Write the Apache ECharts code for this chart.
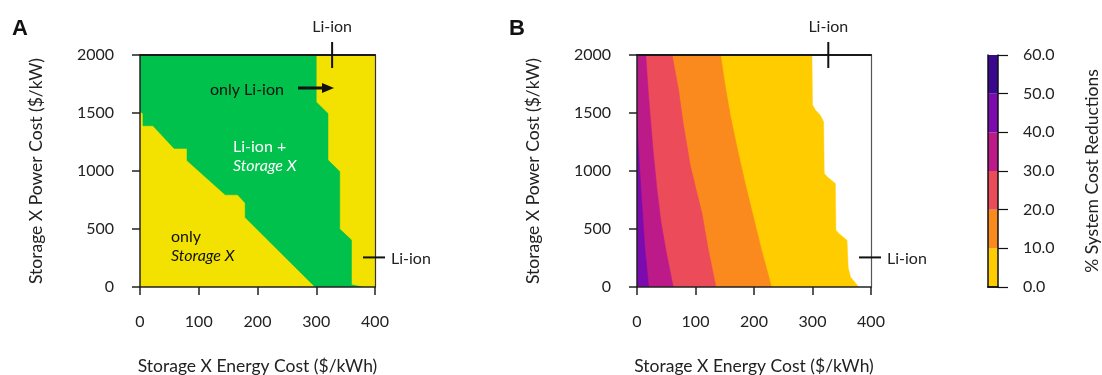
<!DOCTYPE html>
<html><head><meta charset="utf-8">
<script src="https://cdn.jsdelivr.net/npm/echarts@6/dist/echarts.min.js"></script>
<style>html,body{margin:0;padding:0;background:#fff}#c{width:1102px;height:375px}</style>
</head><body><div id="c"></div>
<script>
// ---- data ----
const xTicks = [0, 100, 200, 300, 400];
const yTicks = [0, 500, 1000, 1500, 2000];
const cbLevels = [0, 10, 20, 30, 40, 50, 60];
const xRange = [0, 400];
const yRange = [0, 2000];
const liIonEnergyCost = 327;
const liIonPowerCost = 255;

// Panel A: region boundaries (top -> bottom)
const aLowerBoundary = [[0,1510],[5,1495],[5,1390],[22,1390],[58,1195],[80,1195],[80,1090],[145,795],[166,795],[179,725],[179,600],[298,0]];
const aUpperBoundary = [[300,2000],[300,1595],[320,1495],[320,1095],[340,995],[340,500],[360,405],[360,20],[378,0]];

// Panel B: contour boundaries (top -> bottom)
const bBound0  = [[299,2000],[300,1570],[305,1525],[313,1482],[319,1424],[320,980],[325,950],[339,892],[340,490],[345,461],[359,403],[361,165],[365,86],[379,0]];
const bBound10 = [[143,2000],[150,1756],[160,1467],[172,1180],[185,892],[199,604],[213,317],[230,0]];
const bBound20 = [[60,2000],[71,1700],[79,1412],[91,1050],[101,840],[111,637],[122,320],[135,0]];
const bBound30 = [[15,2000],[19,1700],[23,1450],[28,1150],[34,850],[41,560],[50,300],[62,0]];
const bBound40 = [[0,1400],[3,1150],[6,900],[10,600],[14,300],[20,0]];

const bandColors = ['#FFCC00','#FB8A1E','#EC4B5A','#BD1A89','#7C0BAF','#3A0890'];
const aYellow = '#F3E200', aGreen = '#00C14B';

// ---- build polygons ----
const topLeft = [xRange[0], yRange[1]], botLeft = [xRange[0], yRange[0]];
const polysA = [
  {fill: aYellow, pts: [[xRange[0],yRange[0]],[xRange[1],yRange[0]],[xRange[1],yRange[1]],[xRange[0],yRange[1]]]},
  {fill: aGreen, pts: [topLeft].concat(aLowerBoundary, aUpperBoundary.slice().reverse())}
];
const polysB = [
  {fill: bandColors[0], pts: [topLeft].concat(bBound0, [botLeft])},
  {fill: bandColors[1], pts: [topLeft].concat(bBound10, [botLeft])},
  {fill: bandColors[2], pts: [topLeft].concat(bBound20, [botLeft])},
  {fill: bandColors[3], pts: [topLeft].concat(bBound30, [botLeft])},
  {fill: bandColors[4], pts: bBound40.concat([botLeft])}
];

const FONT = 'Lato';
const TXT = '#222';
const TITLE_SIZE = 17.5;

function polySeries(polys, gi) {
  return {
    type: 'custom', xAxisIndex: gi, yAxisIndex: gi, clip: true, silent: true, z: 2,
    data: polys.map((p, i) => [0, 0, i]),
    encode: {x: 0, y: 1},
    renderItem: function (params, api) {
      const p = polys[params.dataIndex];
      return {type: 'polygon', shape: {points: p.pts.map(q => api.coord(q))}, style: {fill: p.fill, stroke: p.fill, lineWidth: 0.5}};
    }
  };
}
function markerSeries(gi) {
  return {
    type: 'custom', xAxisIndex: gi, yAxisIndex: gi, clip: false, silent: true, z: 20,
    data: [[liIonEnergyCost, liIonPowerCost]],
    encode: {x: 0, y: 1},
    renderItem: function (params, api) {
      const t = api.coord([api.value(0), yRange[1]]);
      const r = api.coord([xRange[1], api.value(1)]);
      const ls = {stroke: '#111', lineWidth: 2};
      return {type: 'group', children: [
        {type: 'line', shape: {x1: t[0], y1: t[1]-13, x2: t[0], y2: t[1]+13}, style: ls},
        {type: 'text', style: {text: 'Li-ion', x: t[0], y: t[1]-28, align: 'center', verticalAlign: 'middle', fontSize: 16, fontFamily: FONT, fill: TXT}},
        {type: 'line', shape: {x1: r[0]-12, y1: r[1], x2: r[0]+10, y2: r[1]}, style: ls},
        {type: 'text', style: {text: 'Li-ion', x: r[0]+16, y: r[1]+1, align: 'left', verticalAlign: 'middle', fontSize: 16, fontFamily: FONT, fill: TXT}}
      ]};
    }
  };
}

function valueX(gi) {
  return {type: 'value', gridIndex: gi, min: xRange[0], max: xRange[1], interval: xTicks[1] - xTicks[0], z: 10,
    name: 'Storage X Energy Cost ($/kWh)', nameLocation: 'middle', nameGap: 70,
    nameTextStyle: {fontSize: TITLE_SIZE, fontFamily: FONT, color: TXT},
    axisLine: {show: true, onZero: false, lineStyle: {color: '#222', width: 1.5}},
    axisTick: {show: true, inside: false, length: 8, lineStyle: {color: '#222', width: 1.5}},
    axisLabel: {margin: 27, fontSize: 16, fontFamily: FONT, color: TXT, formatter: v => String(v)},
    splitLine: {show: false}};
}
function valueY(gi) {
  return {type: 'value', gridIndex: gi, min: yRange[0], max: yRange[1], interval: yTicks[1] - yTicks[0], z: 10,
    name: 'Storage X Power Cost ($/kW)', nameLocation: 'middle', nameGap: 95, nameRotate: 90,
    nameTextStyle: {fontSize: TITLE_SIZE, fontFamily: FONT, color: TXT},
    axisLine: {show: true, onZero: false, lineStyle: {color: '#222', width: 1.5}},
    axisTick: {show: true, inside: false, length: 8, lineStyle: {color: '#222', width: 1.5}},
    axisLabel: {margin: 26, fontSize: 16, fontFamily: FONT, color: TXT, formatter: v => String(v)},
    splitLine: {show: false}};
}
function frameX(gi, w) {
  return {type: 'value', gridIndex: gi, position: 'top', min: xRange[0], max: xRange[1], z: 10,
    axisLine: {show: true, onZero: false, lineStyle: {color: '#1a1a1a', width: w}},
    axisTick: {show: false}, axisLabel: {show: false}, splitLine: {show: false}};
}
function frameY(gi, w, col) {
  return {type: 'value', gridIndex: gi, position: 'right', min: yRange[0], max: yRange[1], z: 10,
    axisLine: {show: true, onZero: false, lineStyle: {color: col, width: w}},
    axisTick: {show: false}, axisLabel: {show: false}, splitLine: {show: false}};
}

const cbSeries = cbLevels.slice(1).map((lv, i) => ({
  type: 'bar', xAxisIndex: 2, yAxisIndex: 2, stack: 'cb', barWidth: '100%', silent: true,
  data: [lv - cbLevels[i]], itemStyle: {color: bandColors[i]}
}));

const chart = echarts.init(document.getElementById('c'), null, {renderer: 'canvas'});
chart.setOption({
  animation: false,
  textStyle: {fontFamily: FONT, color: TXT},
  grid: [
    {left: 140, top: 55, width: 235, height: 232, outerBoundsMode: 'none', containLabel: false},
    {left: 637, top: 55, width: 234, height: 232, outerBoundsMode: 'none', containLabel: false},
    {left: 988, top: 55, width: 10, height: 232, outerBoundsMode: 'none', containLabel: false}
  ],
  xAxis: [
    valueX(0), valueX(1),
    {type: 'category', gridIndex: 2, data: ['cb'], z: 10,
      axisLine: {show: true, lineStyle: {color: '#111', width: 1.5}}, axisTick: {show: false}, axisLabel: {show: false}},
    frameX(0, 2), frameX(1, 2),
    {type: 'category', gridIndex: 2, position: 'top', data: ['cb'], z: 10,
      axisLine: {show: true, lineStyle: {color: '#111', width: 1.5}}, axisTick: {show: false}, axisLabel: {show: false}}
  ],
  yAxis: [
    valueY(0), valueY(1),
    {type: 'value', gridIndex: 2, position: 'right', min: cbLevels[0], max: cbLevels[cbLevels.length-1], interval: 10, z: 10,
      name: '% System Cost Reductions', nameLocation: 'middle', nameGap: 85, nameRotate: 90,
      nameTextStyle: {fontSize: TITLE_SIZE, fontFamily: FONT, color: TXT},
      axisLine: {show: true, lineStyle: {color: '#111', width: 1.5}},
      axisTick: {show: true, inside: false, length: 10, lineStyle: {color: '#111', width: 1.2}},
      axisLabel: {margin: 25, fontSize: 16, fontFamily: FONT, color: TXT, formatter: v => v.toFixed(1)},
      splitLine: {show: false}},
    frameY(0, 1.2, '#333'), frameY(1, 1.2, '#555'),
    {type: 'value', gridIndex: 2, position: 'left', min: 0, max: 60, z: 10,
      axisLine: {show: true, lineStyle: {color: '#111', width: 1.5}}, axisTick: {show: false}, axisLabel: {show: false}, splitLine: {show: false}}
  ],
  series: [polySeries(polysA, 0), polySeries(polysB, 1), markerSeries(0), markerSeries(1)].concat(cbSeries),
  graphic: [
    {type: 'text', left: 12, top: 18, style: {text: 'A', fontSize: 22, fontWeight: 'bold', fontFamily: 'Liberation Sans', fill: '#111'}},
    {type: 'text', left: 509, top: 18, style: {text: 'B', fontSize: 22, fontWeight: 'bold', fontFamily: 'Liberation Sans', fill: '#111'}},
    {type: 'text', x: 210, y: 90, z: 30, style: {text: 'only Li-ion', fontSize: 16, fontFamily: FONT, fill: '#111', verticalAlign: 'middle'}},
    {type: 'line', z: 30, shape: {x1: 298, y1: 88, x2: 324, y2: 88}, style: {stroke: '#111', lineWidth: 3}},
    {type: 'polygon', z: 30, shape: {points: [[322, 83], [334, 88], [322, 93]]}, style: {fill: '#111'}},
    {type: 'text', x: 233, y: 147, z: 30, style: {text: 'Li-ion +', fontSize: 16, fontFamily: FONT, fill: '#fff', verticalAlign: 'middle'}},
    {type: 'text', x: 233, y: 166, z: 30, style: {text: 'Storage X', fontSize: 16, fontStyle: 'italic', fontFamily: FONT, fill: '#fff', verticalAlign: 'middle'}},
    {type: 'text', x: 171, y: 237, z: 30, style: {text: 'only', fontSize: 16, fontFamily: FONT, fill: '#111', verticalAlign: 'middle'}},
    {type: 'text', x: 171, y: 256, z: 30, style: {text: 'Storage X', fontSize: 16, fontStyle: 'italic', fontFamily: FONT, fill: '#111', verticalAlign: 'middle'}}
  ]
});
</script>
</body></html>
